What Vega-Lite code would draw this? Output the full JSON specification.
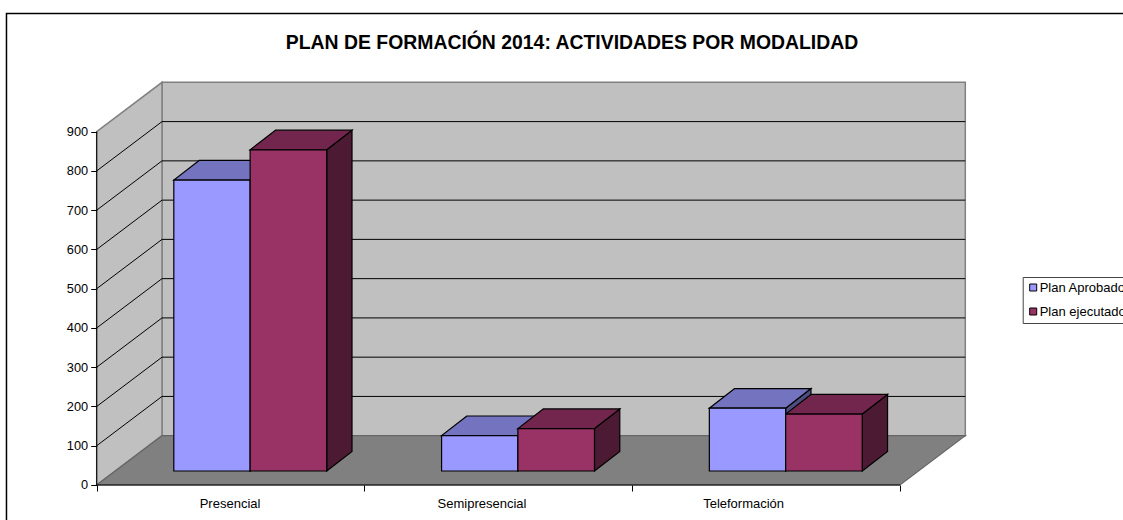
{
"$schema":"https://vega.github.io/schema/vega-lite/v6.json",
"width":1123,"height":520,"padding":0,"autosize":{"type":"none"},"background":"white",
"title":{"text":"PLAN DE FORMACIÓN 2014: ACTIVIDADES POR MODALIDAD","font":"Liberation Sans","fontSize":19.4,"fontWeight":"bold","color":"black","anchor":"middle","frame":"group","dx":10.5,"dy":68,"offset":0,"baseline":"alphabetic"},
"config":{"view":{"stroke":null},"font":"Liberation Sans"},
"datasets":{
"planos":[
{"capa":"marco","x":-0.3369,"x2":4,"y":1201,"y2":-120},
{"capa":"fondo","x":0.2439,"x2":3.2439,"y":125.6,"y2":1025.6},
{"capa":"izq","x":0,"y":900,"y2":0},
{"capa":"izq","x":0.2439,"y":1025.6,"y2":125.6},
{"capa":"suelo","y":0,"x":0,"x2":3},
{"capa":"suelo","y":125.6,"x":0.2439,"x2":3.2439},
{"capa":"eje","x":0,"x2":0,"y":0,"y2":900},
{"capa":"eje","x":0,"x2":3,"y":0,"y2":0}
],
"rejilla":[
{"x":0,"x2":0.2439,"y":100,"y2":225.6},{"x":0.2439,"x2":3.2439,"y":225.6,"y2":225.6},
{"x":0,"x2":0.2439,"y":200,"y2":325.6},{"x":0.2439,"x2":3.2439,"y":325.6,"y2":325.6},
{"x":0,"x2":0.2439,"y":300,"y2":425.6},{"x":0.2439,"x2":3.2439,"y":425.6,"y2":425.6},
{"x":0,"x2":0.2439,"y":400,"y2":525.6},{"x":0.2439,"x2":3.2439,"y":525.6,"y2":525.6},
{"x":0,"x2":0.2439,"y":500,"y2":625.6},{"x":0.2439,"x2":3.2439,"y":625.6,"y2":625.6},
{"x":0,"x2":0.2439,"y":600,"y2":725.6},{"x":0.2439,"x2":3.2439,"y":725.6,"y2":725.6},
{"x":0,"x2":0.2439,"y":700,"y2":825.6},{"x":0.2439,"x2":3.2439,"y":825.6,"y2":825.6},
{"x":0,"x2":0.2439,"y":800,"y2":925.6},{"x":0.2439,"x2":3.2439,"y":925.6,"y2":925.6}
],
"frentes":[
{"modalidad":"Presencial","serie":"Plan Aprobado","valor":741,"x":0.288,"x2":0.573,"y":776.7,"y2":35.7},
{"modalidad":"Presencial","serie":"Plan ejecutado","valor":818,"x":0.573,"x2":0.859,"y":853.7,"y2":35.7},
{"modalidad":"Semipresencial","serie":"Plan Aprobado","valor":90,"x":1.288,"x2":1.573,"y":125.7,"y2":35.7},
{"modalidad":"Semipresencial","serie":"Plan ejecutado","valor":108,"x":1.573,"x2":1.859,"y":143.7,"y2":35.7},
{"modalidad":"Teleformación","serie":"Plan Aprobado","valor":160,"x":2.288,"x2":2.573,"y":195.7,"y2":35.7},
{"modalidad":"Teleformación","serie":"Plan ejecutado","valor":145,"x":2.573,"x2":2.859,"y":180.7,"y2":35.7}
],
"techos":[
{"barra":"PA","serie":"A","y":776.7,"x":0.288,"x2":0.573},{"barra":"PA","serie":"A","y":826.7,"x":0.3825,"x2":0.6675},
{"barra":"SA","serie":"A","y":125.7,"x":1.288,"x2":1.573},{"barra":"SA","serie":"A","y":175.7,"x":1.3825,"x2":1.6675},
{"barra":"TA","serie":"A","y":195.7,"x":2.288,"x2":2.573},{"barra":"TA","serie":"A","y":245.7,"x":2.3825,"x2":2.6675},
{"barra":"PE","serie":"E","y":853.7,"x":0.573,"x2":0.859},{"barra":"PE","serie":"E","y":903.7,"x":0.6675,"x2":0.9535},
{"barra":"SE","serie":"E","y":143.7,"x":1.573,"x2":1.859},{"barra":"SE","serie":"E","y":193.7,"x":1.6675,"x2":1.9535},
{"barra":"TE","serie":"E","y":180.7,"x":2.573,"x2":2.859},{"barra":"TE","serie":"E","y":230.7,"x":2.6675,"x2":2.9535}
],
"lados":[
{"barra":"PA","serie":"A","x":0.573,"y":776.7,"y2":35.7},{"barra":"PA","serie":"A","x":0.6675,"y":826.7,"y2":85.7},
{"barra":"SA","serie":"A","x":1.573,"y":125.7,"y2":35.7},{"barra":"SA","serie":"A","x":1.6675,"y":175.7,"y2":85.7},
{"barra":"TA","serie":"A","x":2.573,"y":195.7,"y2":35.7},{"barra":"TA","serie":"A","x":2.6675,"y":245.7,"y2":85.7},
{"barra":"PE","serie":"E","x":0.859,"y":853.7,"y2":35.7},{"barra":"PE","serie":"E","x":0.9535,"y":903.7,"y2":85.7},
{"barra":"SE","serie":"E","x":1.859,"y":143.7,"y2":35.7},{"barra":"SE","serie":"E","x":1.9535,"y":193.7,"y2":85.7},
{"barra":"TE","serie":"E","x":2.859,"y":180.7,"y2":35.7},{"barra":"TE","serie":"E","x":2.9535,"y":230.7,"y2":85.7}
],
"etiquetas":[
{"modalidad":"Presencial","x":0.498,"y":-48.4},
{"modalidad":"Semipresencial","x":1.439,"y":-48.4},
{"modalidad":"Teleformación","x":2.416,"y":-48.4}
]
},
"encoding":{
"x":{"field":"x","type":"quantitative","stack":null,"scale":{"domain":[-0.3611,3.8328],"nice":false,"zero":false},
"axis":{"title":null,"values":[0,1,2,3],"labels":false,"domain":false,"grid":false,"ticks":true,"tickSize":6,"tickColor":"black","offset":-35,"zindex":1}},
"y":{"field":"y","type":"quantitative","stack":null,"scale":{"domain":[-89.15,1235.35],"nice":false,"zero":false},
"axis":{"title":null,"values":[0,100,200,300,400,500,600,700,800,900],"domain":false,"grid":false,"ticks":true,"tickSize":6,"tickColor":"black","labelColor":"black","labelFont":"Liberation Sans","labelFontSize":12.8,"labelPadding":3,"offset":-96.7,"zindex":1}}
},
"layer":[
{"data":{"name":"planos"},"transform":[{"filter":"datum.capa==='marco'"}],"mark":{"type":"rect","filled":false,"stroke":"black","strokeWidth":1.5},"encoding":{"x2":{"field":"x2"},"y2":{"field":"y2"}}},
{"data":{"name":"planos"},"transform":[{"filter":"datum.capa==='fondo'"}],"mark":{"type":"rect","fill":"#C0C0C0","stroke":"#808080","strokeWidth":1.5},"encoding":{"x2":{"field":"x2"},"y2":{"field":"y2"}}},
{"data":{"name":"planos"},"transform":[{"filter":"datum.capa==='izq'"}],"mark":{"type":"area","orient":"vertical","fill":"#C0C0C0","stroke":"#808080","strokeWidth":1.5},"encoding":{"y2":{"field":"y2"}}},
{"data":{"name":"rejilla"},"mark":{"type":"rule","stroke":"black","strokeWidth":1},"encoding":{"x2":{"field":"x2"},"y2":{"field":"y2"}}},
{"data":{"name":"planos"},"transform":[{"filter":"datum.capa==='suelo'"}],"mark":{"type":"area","orient":"horizontal","fill":"#808080","stroke":"#666666","strokeWidth":1.2},"encoding":{"x2":{"field":"x2"}}},
{"data":{"name":"planos"},"transform":[{"filter":"datum.capa==='eje'"}],"mark":{"type":"rule","stroke":"black","strokeWidth":1},"encoding":{"x2":{"field":"x2"},"y2":{"field":"y2"}}},
{"data":{"name":"lados"},"transform":[{"filter":"datum.serie==='A'"}],"mark":{"type":"area","orient":"vertical","fill":"#4D4D80","stroke":"black","strokeWidth":1.2},"encoding":{"detail":{"field":"barra"},"y2":{"field":"y2"}}},
{"data":{"name":"techos"},"transform":[{"filter":"datum.serie==='A'"}],"mark":{"type":"area","orient":"horizontal","fill":"#7373BF","stroke":"black","strokeWidth":1.2},"encoding":{"detail":{"field":"barra"},"x2":{"field":"x2"}}},
{"data":{"name":"lados"},"transform":[{"filter":"datum.serie==='E'"}],"mark":{"type":"area","orient":"vertical","fill":"#4D1A33","stroke":"black","strokeWidth":1.2},"encoding":{"detail":{"field":"barra"},"y2":{"field":"y2"}}},
{"data":{"name":"techos"},"transform":[{"filter":"datum.serie==='E'"}],"mark":{"type":"area","orient":"horizontal","fill":"#73264D","stroke":"black","strokeWidth":1.2},"encoding":{"detail":{"field":"barra"},"x2":{"field":"x2"}}},
{"data":{"name":"frentes"},"mark":{"type":"rect","stroke":"black","strokeWidth":1.2},"encoding":{"x2":{"field":"x2"},"y2":{"field":"y2"},
"color":{"field":"serie","type":"nominal","scale":{"domain":["Plan Aprobado","Plan ejecutado"],"range":["#9999FF","#993366"]},
"legend":{"title":null,"orient":"none","legendX":1022.7,"legendY":277,"padding":4,"fillColor":"white","strokeColor":"#444444","symbolType":"square","symbolSize":49,"symbolStrokeColor":"black","symbolStrokeWidth":1,"symbolOpacity":1,"labelFont":"Liberation Sans","labelFontSize":13,"labelColor":"black","labelOffset":0,"rowPadding":10,"labelLimit":200}}}},
{"data":{"name":"etiquetas"},"mark":{"type":"text","font":"Liberation Sans","fontSize":13,"color":"black","align":"center","baseline":"middle"},"encoding":{"text":{"field":"modalidad"}}}
]
}
